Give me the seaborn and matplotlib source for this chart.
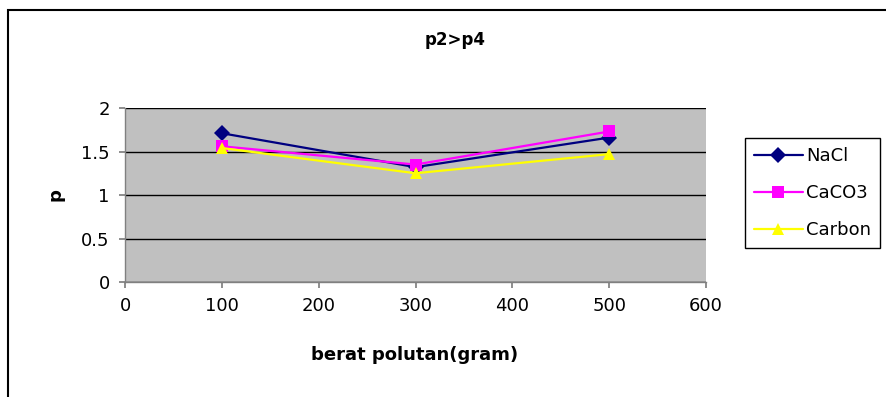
import matplotlib
matplotlib.use("Agg")
import matplotlib.pyplot as plt
import seaborn as sns
import pandas as pd
from matplotlib.patches import Rectangle

x_vals = [100, 300, 500]
nacl = [1.71, 1.32, 1.66]
caco3 = [1.56, 1.35, 1.73]
carbon = [1.54, 1.25, 1.47]
series_names = ["NaCl", "CaCO3", "Carbon"]
x_ticks = [0, 100, 200, 300, 400, 500, 600]
y_ticks = [0, 0.5, 1, 1.5, 2]
y_tick_labels = ["0", "0.5", "1", "1.5", "2"]

rows = []
for name, vals in zip(series_names, [nacl, caco3, carbon]):
    for xv, yv in zip(x_vals, vals):
        rows.append({"x": xv, "p": yv, "series": name})
df = pd.DataFrame(rows)

sns.set_theme(style="white")
plt.rcParams["font.family"] = ["DejaVu Sans"]
plt.rcParams["text.color"] = "black"
plt.rcParams["axes.labelcolor"] = "black"

fig = plt.figure(figsize=(8.86, 3.97), dpi=100)
ax = fig.add_axes([125/886, 1-282/397, (706-125)/886, (282-108)/397])
ax.set_facecolor("#C0C0C0")

palette = {"NaCl": "#000080", "CaCO3": "#FF00FF", "Carbon": "#FFFF00"}
markers = {"NaCl": "D", "CaCO3": "s", "Carbon": "^"}
sns.lineplot(data=df, x="x", y="p", hue="series", style="series",
             palette=palette, markers=markers, dashes=False,
             markersize=8.5, linewidth=1.6, markeredgewidth=0, ax=ax,
             hue_order=series_names, style_order=series_names)

ax.set_xlim(0, 600)
ax.set_ylim(0, 2)
ax.set_xticks(x_ticks)
ax.set_yticks(y_ticks)
ax.set_yticklabels(y_tick_labels)
ax.yaxis.grid(True, color="black", linewidth=1)
ax.xaxis.grid(False)
ax.set_axisbelow(True)
for s in ["top", "right"]:
    ax.spines[s].set_visible(False)
for s in ["left", "bottom"]:
    ax.spines[s].set_color("#808080")
    ax.spines[s].set_linewidth(1)
ax.tick_params(axis="both", labelsize=13, length=4, direction="out",
               left=True, bottom=True, pad=7, colors="#808080", labelcolor="black")

ax.set_xlabel("berat polutan(gram)", fontsize=13, fontweight="bold", va="center",
              color="black")
ax.xaxis.set_label_coords(0.499, (282-355)/174)
ax.set_ylabel("p", fontsize=13, fontweight="bold", va="center", color="black")
ax.yaxis.set_label_coords((55-125)/581, 0.5)

fig.text(455/886, 1-40/397, "p2>p4", ha="center", va="center",
         fontsize=12, fontweight="bold", color="black")

handles, labels = ax.get_legend_handles_labels()
leg = ax.legend(handles, labels, loc="upper left",
                bbox_to_anchor=(745/886, 1-138/397), bbox_transform=fig.transFigure,
                frameon=True, fancybox=False, edgecolor="black", framealpha=1,
                fontsize=13, handlelength=2.7, handletextpad=0.2,
                labelspacing=1.05, borderpad=0.5, borderaxespad=0,
                labelcolor="black")
leg.get_frame().set_linewidth(1)

fig.patches.append(Rectangle((8/886, -0.2), 1.5, 1.2-10/397, transform=fig.transFigure,
                             fill=False, edgecolor="black", linewidth=1.5))

fig.savefig("out.png", dpi=100)
